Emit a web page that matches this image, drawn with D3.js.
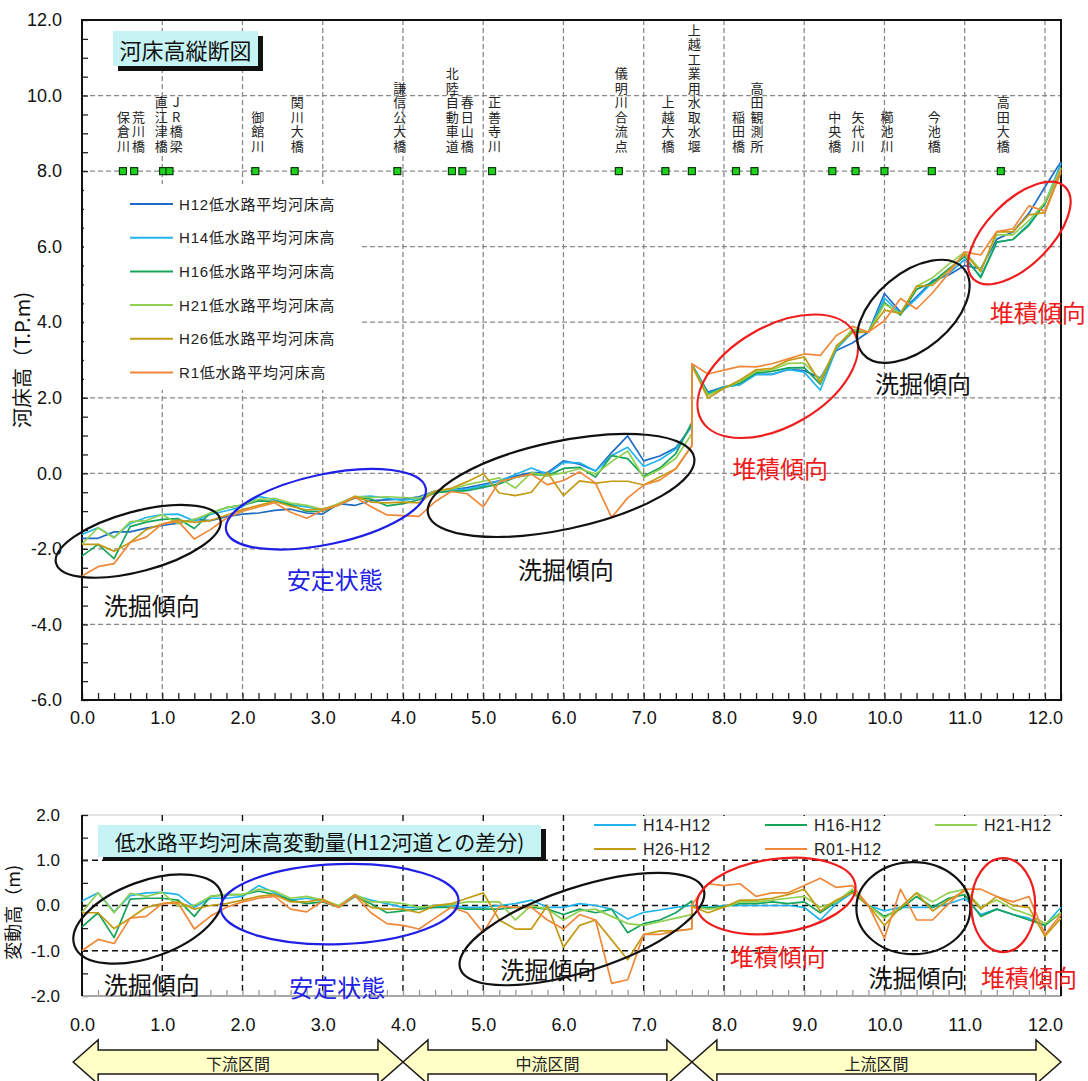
<!DOCTYPE html>
<html>
<head>
<meta charset="utf-8">
<script src="https://cdn.jsdelivr.net/npm/d3@7"></script>
<style>
  body { margin: 0; background: #fff; }
  svg { display: block; font-family: "Liberation Sans", Arial, "Noto Sans CJK JP", sans-serif; }
  .vchar { writing-mode: vertical-rl; text-orientation: upright; }
</style>
</head>
<body>
<svg id="chart" width="1088" height="1081"></svg>
<script>
// ---- survey sections (km); 7.6 appears twice: downstream and upstream face of the weir
const km = [0.0,0.2,0.4,0.6,0.8,1.0,1.2,1.4,1.6,1.8,2.0,2.2,2.4,2.6,2.8,3.0,3.2,3.4,3.6,3.8,
            4.0,4.2,4.4,4.6,4.8,5.0,5.2,5.4,5.6,5.8,6.0,6.2,6.4,6.6,6.8,7.0,7.2,7.4,7.6,7.6,
            7.8,8.0,8.2,8.4,8.6,8.8,9.0,9.2,9.4,9.6,9.8,10.0,10.2,10.4,10.6,10.8,11.0,11.2,11.4,11.6,
            11.8,12.0,12.2];

// ---- low-water channel mean bed elevation (T.P. m) per survey year
const H12 = [-1.72,-1.72,-1.55,-1.55,-1.45,-1.38,-1.32,-1.22,-1.25,-1.15,-1.08,-1.05,-0.98,-0.95,-1.05,-1.08,-0.80,-0.85,-0.72,-0.70,
             -0.68,-0.62,-0.47,-0.44,-0.38,-0.29,-0.20,-0.07,0.02,0.02,0.33,0.24,0.06,0.55,0.99,0.33,0.46,0.68,1.25,2.88,
             2.15,2.29,2.35,2.62,2.62,2.75,2.72,2.52,3.25,3.45,3.74,4.76,4.27,4.67,5.10,5.25,5.50,5.42,6.20,6.39,
             6.88,7.58,8.25];
const H14 = [-1.62,-1.44,-1.69,-1.33,-1.17,-1.09,-1.08,-1.26,-1.09,-0.99,-0.88,-0.61,-0.70,-0.83,-0.89,-0.96,-0.82,-0.63,-0.60,-0.66,
             -0.72,-0.66,-0.51,-0.44,-0.42,-0.33,-0.20,-0.03,0.14,-0.02,0.29,0.28,0.06,0.47,0.69,0.18,0.36,0.64,1.25,2.88,
             2.11,2.29,2.35,2.62,2.62,2.75,2.68,2.20,3.29,3.73,3.74,4.64,4.23,4.63,5.06,5.29,5.66,5.22,6.12,6.19,
             6.60,7.14,8.21];
const H16 = [-2.19,-1.88,-2.26,-1.41,-1.29,-1.22,-1.20,-1.46,-1.05,-0.91,-0.84,-0.73,-0.74,-0.83,-1.01,-1.00,-0.84,-0.65,-0.68,-0.86,
             -0.80,-0.70,-0.51,-0.48,-0.46,-0.37,-0.28,-0.11,-0.02,-0.06,0.13,0.16,-0.10,0.47,0.39,-0.07,0.14,0.52,1.35,2.88,
             2.09,2.27,2.39,2.66,2.70,2.79,2.80,2.36,3.33,3.77,3.74,4.52,4.19,4.87,5.06,5.41,5.74,5.18,6.12,6.19,
             6.56,7.14,8.09];
const H21 = [-1.87,-1.44,-1.71,-1.28,-1.25,-1.09,-1.34,-1.22,-1.05,-0.91,-0.84,-0.69,-0.66,-0.79,-0.85,-0.96,-0.80,-0.61,-0.64,-0.62,
             -0.64,-0.66,-0.47,-0.42,-0.30,-0.21,-0.12,-0.39,0.02,-0.06,0.01,0.12,-0.02,0.31,0.59,-0.11,0.10,0.40,1.05,2.86,
             2.07,2.25,2.43,2.70,2.74,2.91,2.92,2.48,3.33,3.81,3.74,4.48,4.23,4.95,5.18,5.53,5.86,5.38,6.32,6.31,
             6.68,7.18,8.09];
const H26 = [-1.88,-1.88,-2.06,-1.83,-1.49,-1.34,-1.24,-1.30,-1.25,-1.11,-0.96,-0.85,-0.74,-0.87,-0.97,-0.94,-0.84,-0.61,-0.76,-0.78,
             -0.76,-0.78,-0.47,-0.40,-0.22,-0.01,-0.52,-0.59,-0.50,0.02,-0.59,-0.20,-0.26,-0.21,-0.21,-0.31,-0.10,0.12,0.73,2.86,
             1.99,2.25,2.47,2.74,2.78,2.99,3.08,2.40,3.37,3.73,3.74,4.32,4.23,4.95,4.98,5.37,5.82,5.34,6.40,6.39,
             6.84,6.90,7.97];
const R1  = [-2.72,-2.47,-2.39,-1.83,-1.69,-1.34,-1.27,-1.74,-1.49,-1.19,-1.00,-0.89,-0.78,-1.03,-1.19,-0.98,-0.84,-0.63,-0.88,-1.10,
             -1.12,-1.14,-0.75,-0.48,-0.54,-0.89,-0.22,-0.11,-0.02,-0.30,-0.19,0.04,-0.26,-1.17,-0.65,-0.31,-0.18,0.12,0.73,2.90,
             2.63,2.73,2.83,2.82,2.90,3.03,3.16,3.12,3.65,3.89,3.74,4.04,4.63,4.35,4.78,5.29,5.86,5.78,6.40,6.47,
             7.08,6.94,8.05];

const profileNames = ["H12低水路平均河床高","H14低水路平均河床高","H16低水路平均河床高",
                      "H21低水路平均河床高","H26低水路平均河床高","R1低水路平均河床高"];
const diffNames = ["H14-H12","H16-H12","H21-H12","H26-H12","R01-H12"];

// ---- landmarks along the river
const bridgeNames = ["保倉川","荒川橋","直江津橋","JR橋梁","御館川","関川大橋","謙信公大橋","北陸自動車道","春日山橋","正善寺川",
                     "儀明川合流点","上越大橋","上越工業用水取水堰","稲田橋","高田観測所","中央橋","矢代川","櫛池川","今池橋","高田大橋"];
const bridgeKm = [0.51,0.65,1.01,1.09,2.16,2.65,3.93,4.61,4.74,5.11,
                  6.69,7.27,7.60,8.15,8.38,9.35,9.64,10.00,10.59,11.45];

// ---- river sections
const sectionNames = ["下流区間","中流区間","上流区間"];
const sectionBounds = [-0.11, 4.0, 7.6, 12.2];

// ---- axis ticks
const xTickVals = [0,1,2,3,4,5,6,7,8,9,10,11,12];
const xTickLabels = ["0.0","1.0","2.0","3.0","4.0","5.0","6.0","7.0","8.0","9.0","10.0","11.0","12.0"];
const yTopTickVals = [12,10,8,6,4,2,0,-2,-4,-6];
const yTopTickLabels = ["12.0","10.0","8.0","6.0","4.0","2.0","0.0","-2.0","-4.0","-6.0"];
const yBotTickVals = [2,1,0,-1,-2];
const yBotTickLabels = ["2.0","1.0","0.0","-1.0","-2.0"];

// ---- styling
const profileColors = ["#1f6cc4","#21b4ee","#16a35a","#8fd050","#c49a12","#f0883a"];
const gridGray = "#8a8a8a";
const cjk = "'Noto Sans CJK JP', sans-serif";
const num = "'Liberation Sans', Arial, sans-serif";

const svg = d3.select("#chart");
const x = d3.scaleLinear().domain([0, 12.2]).range([82, 1061]);
const yTop = d3.scaleLinear().domain([-6, 12]).range([700, 20]);
const yBot = d3.scaleLinear().domain([-2, 2]).range([996, 815]);

const profiles = [H12, H14, H16, H21, H26, R1];
const diffs = profiles.slice(1).map(p => p.map((v, i) => v - H12[i]));

// =================== upper chart: longitudinal profile ===================
const gTop = svg.append("g");

// grid
gTop.append("g").selectAll("line").data([10,8,6,4,2,0,-2,-4]).join("line")
  .attr("x1", x(0)).attr("x2", x(12.2))
  .attr("y1", d => yTop(d)).attr("y2", d => yTop(d))
  .attr("stroke", gridGray).attr("stroke-width", 1.3).attr("stroke-dasharray", "5,3");
gTop.append("g").selectAll("line").data(d3.range(1, 13)).join("line")
  .attr("x1", d => x(d)).attr("x2", d => x(d))
  .attr("y1", yTop(12)).attr("y2", yTop(-6))
  .attr("stroke", gridGray).attr("stroke-width", 1.3).attr("stroke-dasharray", "5,3");

// minor ticks (inside)
const xMinor = d3.range(0, 62).map(i => +(i * 0.2).toFixed(1));
const yMinor = d3.range(0, 37).map(i => -6 + i * 0.5);
gTop.append("g").attr("transform", `translate(0,${yTop(-6)})`)
  .call(d3.axisBottom(x).tickValues(xMinor).tickSize(-7).tickFormat(""))
  .call(g => g.select(".domain").remove())
  .call(g => g.selectAll("line").attr("stroke", "#222").attr("stroke-width", 1.3));
gTop.append("g").attr("transform", `translate(${x(0)},0)`)
  .call(d3.axisLeft(yTop).tickValues(yMinor).tickSize(-6).tickFormat(""))
  .call(g => g.select(".domain").remove())
  .call(g => g.selectAll("line").attr("stroke", "#222").attr("stroke-width", 1.3));

// frame
gTop.append("rect").attr("x", x(0)).attr("y", yTop(12))
  .attr("width", x(12.2) - x(0)).attr("height", yTop(-6) - yTop(12))
  .attr("fill", "none").attr("stroke", "#111").attr("stroke-width", 2);

// tick labels
gTop.append("g").attr("transform", `translate(0,${yTop(-6)})`)
  .call(d3.axisBottom(x).tickValues(xTickVals).tickSize(0).tickPadding(11)
        .tickFormat((d, i) => xTickLabels[i]))
  .call(g => g.select(".domain").remove())
  .call(g => g.selectAll("text").attr("font-size", 18).attr("fill", "#111").attr("font-family", num));
gTop.append("g").attr("transform", `translate(${x(0)},0)`)
  .call(d3.axisLeft(yTop).tickValues(yTopTickVals).tickSize(0).tickPadding(20)
        .tickFormat((d, i) => yTopTickLabels[i]))
  .call(g => g.select(".domain").remove())
  .call(g => g.selectAll("text").attr("font-size", 18).attr("fill", "#111").attr("font-family", num));

// y title
gTop.append("text").attr("transform", `translate(21,${yTop(3.0)}) rotate(-90)`)
  .attr("text-anchor", "middle").attr("dominant-baseline", "central")
  .attr("font-size", 20).attr("font-family", cjk).attr("fill", "#111")
  .text("河床高（T.P.m)");

// title box
gTop.append("rect").attr("x", 118).attr("y", 36).attr("width", 145).attr("height", 35).attr("fill", "#111");
gTop.append("rect").attr("x", 113).attr("y", 31).attr("width", 145).attr("height", 35).attr("fill", "#c6f4f4");
gTop.append("text").attr("x", 185.5).attr("y", 49).attr("text-anchor", "middle")
  .attr("dominant-baseline", "central").attr("font-size", 22).attr("font-family", cjk)
  .attr("fill", "#111").text("河床高縦断図");

// landmark labels: vertical columns of characters, bottom-aligned above the 8.0 markers
const labelX = bridgeKm.map(k => x(k) + 2.5);
for (let pass = 0; pass < 20; pass++) {
  for (let i = 1; i < labelX.length; i++) {
    const gap = labelX[i] - labelX[i - 1];
    if (gap < 15) { const d = (15 - gap) / 2; labelX[i - 1] -= d; labelX[i] += d; }
  }
}
const lbl = gTop.append("g").attr("font-family", cjk).attr("font-size", 13).attr("fill", "#222");
bridgeNames.forEach((name, bi) => {
  const chars = Array.from(name);
  const n = chars.length;
  chars.forEach((c, ci) => {
    lbl.append("text").attr("class", "vchar")
      .attr("x", labelX[bi]).attr("y", 146 - (n - 1 - ci) * 14.5)
      .attr("text-anchor", "middle").text(c);
  });
});
gTop.append("g").selectAll("rect").data(bridgeKm).join("rect")
  .attr("x", d => x(d) - 3.5).attr("y", yTop(8) - 3.5).attr("width", 7).attr("height", 7)
  .attr("fill", "#1ed21e").attr("stroke", "#0c3a0c").attr("stroke-width", 1.2);

// legend
gTop.append("rect").attr("x", 84).attr("y", 184).attr("width", 277).attr("height", 206).attr("fill", "#fff");
const leg = gTop.append("g");
profileNames.forEach((name, i) => {
  const yy = 204 + i * 33.7;
  leg.append("line").attr("x1", 130).attr("x2", 173).attr("y1", yy).attr("y2", yy)
    .attr("stroke", profileColors[i]).attr("stroke-width", 2);
  leg.append("text").attr("x", 179).attr("y", yy).attr("dominant-baseline", "central")
    .attr("font-size", 15).attr("letter-spacing", 0.8).attr("fill", "#222").text(name);
});

// profile lines
const lineTop = d3.line().x((d, i) => x(km[i])).y(d => yTop(d));
gTop.append("g").selectAll("path").data(profiles).join("path")
  .attr("d", d => lineTop(d)).attr("fill", "none")
  .attr("stroke", (d, i) => profileColors[i]).attr("stroke-width", 1.7)
  .attr("stroke-linejoin", "round");

// ---- annotations (centre in data units, radii in px)
const topEllipses = [
  { k: 0.70, v: -1.80, rx: 85, ry: 30, rot: -15, c: "#111" },
  { k: 3.04, v: -0.95, rx: 102, ry: 35, rot: -12, c: "#1f1fe6" },
  { k: 5.97, v: -0.32, rx: 136, ry: 44, rot: -12, c: "#111" },
  { k: 8.67, v: 2.57, rx: 88, ry: 50, rot: -30, c: "#ee1c1c" },
  { k: 10.36, v: 4.29, rx: 66, ry: 38, rot: -40, c: "#111" },
  { k: 11.68, v: 6.36, rx: 65, ry: 32, rot: -45, c: "#ee1c1c" }
];
const topNotes = [
  { k: 0.87, v: -3.47, t: "洗掘傾向", c: "#111" },
  { k: 3.15, v: -2.78, t: "安定状態", c: "#1f1fe6" },
  { k: 6.03, v: -2.52, t: "洗掘傾向", c: "#111" },
  { k: 8.70, v: 0.16, t: "堆積傾向", c: "#ee1c1c" },
  { k: 10.48, v: 2.41, t: "洗掘傾向", c: "#111" },
  { k: 11.91, v: 4.29, t: "堆積傾向", c: "#ee1c1c" }
];
function drawNotes(g, ys, ellipses, notes) {
  g.append("g").selectAll("ellipse").data(ellipses).join("ellipse")
    .attr("transform", d => `translate(${x(d.k)},${ys(d.v)}) rotate(${d.rot})`)
    .attr("rx", d => d.rx).attr("ry", d => d.ry)
    .attr("fill", "none").attr("stroke", d => d.c).attr("stroke-width", 2.2);
  g.append("g").selectAll("text").data(notes).join("text")
    .attr("x", d => x(d.k)).attr("y", d => ys(d.v))
    .attr("text-anchor", "middle").attr("dominant-baseline", "central")
    .attr("font-size", 24).attr("font-family", cjk).attr("fill", d => d.c).text(d => d.t);
}
drawNotes(gTop, yTop, topEllipses, topNotes);

// =================== lower chart: change from H12 ===================
const gBot = svg.append("g");

gBot.append("line").attr("x1", x(0)).attr("x2", x(12.2)).attr("y1", yBot(2)).attr("y2", yBot(2))
  .attr("stroke", "#c8c8c8").attr("stroke-width", 1.2);
gBot.append("g").selectAll("line").data([1, 0, -1]).join("line")
  .attr("x1", x(0)).attr("x2", x(12.2))
  .attr("y1", d => yBot(d)).attr("y2", d => yBot(d))
  .attr("stroke", "#111").attr("stroke-width", 1.4).attr("stroke-dasharray", "6,4");
gBot.append("g").selectAll("line").data(d3.range(1, 13)).join("line")
  .attr("x1", d => x(d)).attr("x2", d => x(d))
  .attr("y1", yBot(2)).attr("y2", yBot(-2))
  .attr("stroke", "#111").attr("stroke-width", 1.4).attr("stroke-dasharray", "6,4");

gBot.append("g").attr("transform", `translate(0,${yBot(-2)})`)
  .call(d3.axisBottom(x).tickValues(xMinor).tickSize(-6).tickFormat(""))
  .call(g => g.select(".domain").remove())
  .call(g => g.selectAll("line").attr("stroke", "#999").attr("stroke-width", 1.3));
gBot.append("g").attr("transform", `translate(${x(0)},0)`)
  .call(d3.axisLeft(yBot).tickValues([2,1.5,1,0.5,0,-0.5,-1,-1.5,-2]).tickSize(-6).tickFormat(""))
  .call(g => g.select(".domain").remove())
  .call(g => g.selectAll("line").attr("stroke", "#222").attr("stroke-width", 1.3));

gBot.append("line").attr("x1", x(0)).attr("x2", x(12.2)).attr("y1", yBot(-2)).attr("y2", yBot(-2))
  .attr("stroke", "#a8a8a8").attr("stroke-width", 2);
gBot.append("line").attr("x1", x(0)).attr("x2", x(0)).attr("y1", yBot(2)).attr("y2", yBot(-2))
  .attr("stroke", "#111").attr("stroke-width", 2);
gBot.append("line").attr("x1", x(12.2)).attr("x2", x(12.2)).attr("y1", yBot(2)).attr("y2", yBot(-2))
  .attr("stroke", "#111").attr("stroke-width", 2);

gBot.append("g").attr("transform", `translate(0,${yBot(-2)})`)
  .call(d3.axisBottom(x).tickValues(xTickVals).tickSize(0).tickPadding(22)
        .tickFormat((d, i) => xTickLabels[i]))
  .call(g => g.select(".domain").remove())
  .call(g => g.selectAll("text").attr("font-size", 18).attr("fill", "#111").attr("font-family", num));
gBot.append("g").attr("transform", `translate(${x(0)},0)`)
  .call(d3.axisLeft(yBot).tickValues(yBotTickVals).tickSize(0).tickPadding(22)
        .tickFormat((d, i) => yBotTickLabels[i]))
  .call(g => g.select(".domain").remove())
  .call(g => g.selectAll("text").attr("font-size", 17).attr("fill", "#111").attr("font-family", num));

gBot.append("text").attr("transform", `translate(12,${yBot(-0.15)}) rotate(-90)`)
  .attr("text-anchor", "middle").attr("dominant-baseline", "central")
  .attr("font-size", 18).attr("font-family", cjk).attr("fill", "#111")
  .text("変動高（m)");

// title box
gBot.append("rect").attr("x", 103).attr("y", 829).attr("width", 443).attr("height", 32).attr("fill", "#111");
gBot.append("rect").attr("x", 98).attr("y", 825).attr("width", 443).attr("height", 32).attr("fill", "#c6f4f4");
gBot.append("text").attr("x", 319.5).attr("y", 841).attr("text-anchor", "middle")
  .attr("dominant-baseline", "central").attr("font-size", 21).attr("font-family", cjk)
  .attr("fill", "#111").text("低水路平均河床高変動量(H12河道との差分)");

// legend
gBot.append("rect").attr("x", 568).attr("y", 816).attr("width", 495).attr("height", 43).attr("fill", "#fff");
const legB = gBot.append("g");
const legCol = [594, 765, 935];
diffNames.forEach((name, i) => {
  const lx = legCol[i % 3], ly = 825 + Math.floor(i / 3) * 24;
  legB.append("line").attr("x1", lx).attr("x2", lx + 42).attr("y1", ly).attr("y2", ly)
    .attr("stroke", profileColors[i + 1]).attr("stroke-width", 2);
  legB.append("text").attr("x", lx + 49).attr("y", ly).attr("dominant-baseline", "central")
    .attr("font-size", 16).attr("letter-spacing", 0.5).attr("fill", "#222").text(name);
});

const lineBot = d3.line().x((d, i) => x(km[i])).y(d => yBot(d));
gBot.append("g").selectAll("path").data(diffs).join("path")
  .attr("d", d => lineBot(d)).attr("fill", "none")
  .attr("stroke", (d, i) => profileColors[i + 1]).attr("stroke-width", 1.7)
  .attr("stroke-linejoin", "round");

const botEllipses = [
  { k: 0.82, v: -0.30, rx: 78, ry: 38, rot: -20, c: "#111" },
  { k: 3.21, v: 0.03, rx: 119, ry: 40, rot: -2, c: "#1f1fe6" },
  { k: 6.23, v: -0.52, rx: 128, ry: 42, rot: -18, c: "#111" },
  { k: 8.65, v: 0.21, rx: 80, ry: 37, rot: -8, c: "#ee1c1c" },
  { k: 10.36, v: -0.06, rx: 57, ry: 46, rot: 0, c: "#111" },
  { k: 11.48, v: 0.01, rx: 32, ry: 47, rot: 0, c: "#ee1c1c" }
];
const botNotes = [
  { k: 0.87, v: -1.72, t: "洗掘傾向", c: "#111" },
  { k: 3.18, v: -1.79, t: "安定状態", c: "#1f1fe6" },
  { k: 5.81, v: -1.39, t: "洗掘傾向", c: "#111" },
  { k: 8.67, v: -1.10, t: "堆積傾向", c: "#ee1c1c" },
  { k: 10.40, v: -1.56, t: "洗掘傾向", c: "#111" },
  { k: 11.80, v: -1.56, t: "堆積傾向", c: "#ee1c1c" }
];
drawNotes(gBot, yBot, botEllipses, botNotes);

// =================== section arrows ===================
const arrows = svg.append("g");
const cy = 1062, headL = 25, headH = 22, shaftH = 12;
sectionNames.forEach((name, i) => {
  const xl = x(sectionBounds[i]), xr = x(sectionBounds[i + 1]);
  const p = d3.path();
  p.moveTo(xl, cy);
  p.lineTo(xl + headL, cy - headH); p.lineTo(xl + headL, cy - shaftH);
  p.lineTo(xr - headL, cy - shaftH); p.lineTo(xr - headL, cy - headH);
  p.lineTo(xr, cy);
  p.lineTo(xr - headL, cy + headH); p.lineTo(xr - headL, cy + shaftH);
  p.lineTo(xl + headL, cy + shaftH); p.lineTo(xl + headL, cy + headH);
  p.closePath();
  arrows.append("path").attr("d", p.toString())
    .attr("fill", "#ffffc6").attr("stroke", "#1a1a1a").attr("stroke-width", 1.5)
    .attr("stroke-linejoin", "miter");
  arrows.append("text").attr("x", (xl + xr) / 2).attr("y", cy + 1)
    .attr("text-anchor", "middle").attr("dominant-baseline", "central")
    .attr("font-size", 16).attr("font-family", cjk).attr("fill", "#222").text(name);
});
</script>
</body>
</html>
